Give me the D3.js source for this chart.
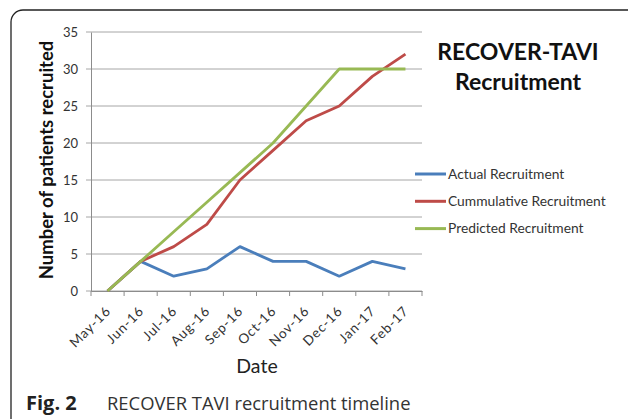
<!DOCTYPE html>
<html>
<head>
<meta charset="utf-8">
<script src="https://cdn.jsdelivr.net/npm/d3@7"></script>
<style>
  html, body { margin: 0; padding: 0; background: #fff; }
  svg { display: block; }
</style>
</head>
<body>
<svg id="chart" width="628" height="419"></svg>
<script>
const months = ["May-16", "Jun-16", "Jul-16", "Aug-16", "Sep-16", "Oct-16", "Nov-16", "Dec-16", "Jan-17", "Feb-17"];
const actual = [0, 4, 2, 3, 6, 4, 4, 2, 4, 3];
const cumulative = [0, 4, 6, 9, 15, 19, 23, 25, 29, 32];
const predicted = [0, 4, 8, 12, 16, 20, 25, 30, 30, 30];
const yTicks = [0, 5, 10, 15, 20, 25, 30, 35];

const series = [
  { name: "Actual Recruitment", values: actual, color: "#4a7ebb" },
  { name: "Cummulative Recruitment", values: cumulative, color: "#be4b48" },
  { name: "Predicted Recruitment", values: predicted, color: "#98b954" }
];

const font = "Lato, 'Open Sans', sans-serif";
const svg = d3.select("#chart");

// frame round the whole figure
svg.append("rect")
  .attr("x", 11).attr("y", 10)
  .attr("width", 640).attr("height", 440)
  .attr("rx", 12)
  .attr("fill", "none")
  .attr("stroke", "#222")
  .attr("stroke-width", 1.3);

const plot = { left: 91, right: 422, top: 32, bottom: 291 };

const x = d3.scaleBand().domain(months).range([plot.left, plot.right]);
const y = d3.scaleLinear().domain([0, 35]).range([plot.bottom, plot.top]);

// gridlines
svg.append("g")
  .selectAll("line")
  .data(yTicks)
  .join("line")
  .attr("x1", plot.left - 5).attr("x2", plot.right)
  .attr("y1", d => y(d)).attr("y2", d => y(d))
  .attr("stroke", "#a6a6a6")
  .attr("stroke-width", 1);

// y axis
const yAxis = svg.append("g")
  .attr("transform", `translate(${plot.left},0)`)
  .call(d3.axisLeft(y).tickValues(yTicks).tickSize(0).tickPadding(13));
yAxis.select(".domain").attr("stroke", "#8c8c8c");
yAxis.selectAll("text")
  .attr("font-family", font).attr("font-size", 13).attr("fill", "#333");

// x axis
const xAxis = svg.append("g")
  .attr("transform", `translate(0,${plot.bottom})`)
  .call(d3.axisBottom(x).tickSize(0).tickFormat(""));
xAxis.select(".domain").attr("stroke", "#8c8c8c");

const boundaries = months.map(m => x(m)).concat([plot.right]);
xAxis.selectAll(".bound")
  .data(boundaries)
  .join("line")
  .attr("class", "bound")
  .attr("x1", d => d).attr("x2", d => d)
  .attr("y1", 0).attr("y2", 5)
  .attr("stroke", "#8c8c8c");

xAxis.selectAll(".lbl")
  .data(months)
  .join("text")
  .attr("class", "lbl")
  .attr("transform", d => `translate(${x(d) + x.bandwidth() / 2 + 4},${21}) rotate(-45)`)
  .attr("text-anchor", "end")
  .attr("font-family", font)
  .attr("font-size", 13.5)
  .attr("letter-spacing", 0.8)
  .attr("fill", "#333")
  .text(d => d);

// lines
const line = d3.line()
  .x((d, i) => x(months[i]) + x.bandwidth() / 2)
  .y(d => y(d));

svg.append("g")
  .selectAll("path")
  .data(series)
  .join("path")
  .attr("d", d => line(d.values))
  .attr("fill", "none")
  .attr("stroke", d => d.color)
  .attr("stroke-width", 2.8)
  .attr("stroke-linejoin", "round");

// axis titles
svg.append("text")
  .attr("transform", `translate(53,160) rotate(-90)`)
  .attr("text-anchor", "middle")
  .attr("font-family", font)
  .attr("font-size", 18.5)
  .attr("font-weight", "bold")
  .attr("fill", "#111")
  .text("Number of patients recruited");

svg.append("text")
  .attr("x", 257).attr("y", 373)
  .attr("text-anchor", "middle")
  .attr("font-family", font)
  .attr("font-size", 19.5)
  .attr("fill", "#222")
  .text("Date");

// chart title
const title = svg.append("text")
  .attr("text-anchor", "middle")
  .attr("font-family", font)
  .attr("font-size", 23)
  .attr("font-weight", "bold")
  .attr("fill", "#111");
title.append("tspan").attr("x", 518).attr("y", 60).text("RECOVER-TAVI");
title.append("tspan").attr("x", 518).attr("y", 90).text("Recruitment");

// legend
const legend = svg.append("g")
  .selectAll("g")
  .data(series)
  .join("g")
  .attr("transform", (d, i) => `translate(415,${174 + i * 27.3})`);
legend.append("line")
  .attr("x1", 0).attr("x2", 31)
  .attr("stroke", d => d.color)
  .attr("stroke-width", 3);
legend.append("text")
  .attr("x", 33).attr("y", 4.5)
  .attr("font-family", font)
  .attr("font-size", 13.8)
  .attr("fill", "#333")
  .text(d => d.name);

// caption
svg.append("text")
  .attr("x", 26).attr("y", 410)
  .attr("font-family", "'Open Sans', sans-serif")
  .attr("font-size", 20)
  .attr("font-weight", "bold")
  .attr("fill", "#222")
  .text("Fig. 2");
svg.append("text")
  .attr("x", 107).attr("y", 410)
  .attr("font-family", "'Open Sans', sans-serif")
  .attr("font-size", 18.4)
  .attr("fill", "#333")
  .text("RECOVER TAVI recruitment timeline");
</script>
</body>
</html>
